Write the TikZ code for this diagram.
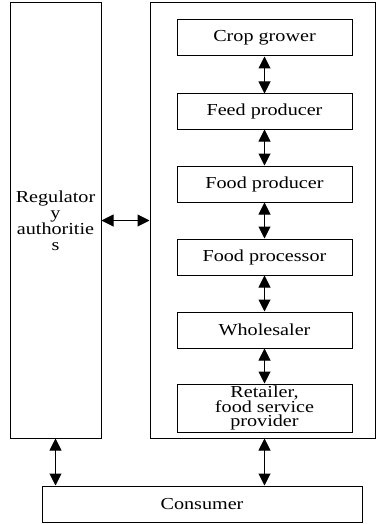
\documentclass[tikz,border=0pt]{standalone}
\usepackage{fontspec}
\setmainfont{Liberation Serif}[FakeStretch=1.2]
\usetikzlibrary{arrows.meta}
\newcommand\mytightlines{\lineskiplimit=-100pt\relax\lineskip=0pt\relax}
\tikzset{
  box/.style={draw, line width=0.5pt, rectangle, inner sep=0pt, align=center,
    font=\fontsize{8.4}{8.0}\selectfont\mytightlines},
  chainbox/.style={box, minimum width=87.5pt, minimum height=18pt},
  conn/.style={line width=0.5pt, {Triangle[length=6pt,width=6pt]}-{Triangle[length=6pt,width=6pt]}}
}
\begin{document}
\begin{tikzpicture}[x=0.5pt,y=-0.5pt]
\useasboundingbox (0,0) rectangle (376,524);
\node[box, minimum width=45.5pt, minimum height=217.5pt] (reg) at (55.5,220.5) {Regulator\\y\\authoritie\\s};
\node[box, minimum width=112.5pt, minimum height=217.5pt] (chain) at (262.5,220.5) {};
\node[chainbox] (crop) at (264.5,38) {Crop grower};
\node[chainbox, minimum height=17.5pt] (feed) at (264.5,111.5) {Feed producer};
\node[chainbox] (foodp) at (264.5,184) {Food producer};
\node[chainbox] (proc) at (264.5,257) {Food processor};
\node[chainbox] (whole) at (264.5,330) {Wholesaler};
\node[chainbox, minimum height=24pt, font=\fontsize{8.4}{7.3}\selectfont\mytightlines] (ret) at (264.5,408) {Retailer,\\food service\\provider};
\node[box, minimum width=160pt, minimum height=18pt] (cons) at (202,504) {Consumer};
\draw[conn] (crop) -- (feed);
\draw[conn] (feed) -- (foodp);
\draw[conn] (foodp) -- (proc);
\draw[conn] (proc) -- (whole);
\draw[conn] (whole) -- (ret);
\draw[conn] (reg.east) -- (chain.west);
\draw[conn] (reg.south) -- (reg.south |- cons.north);
\draw[conn] (ret.south |- chain.south) -- (ret.south |- cons.north);
\end{tikzpicture}
\end{document}
